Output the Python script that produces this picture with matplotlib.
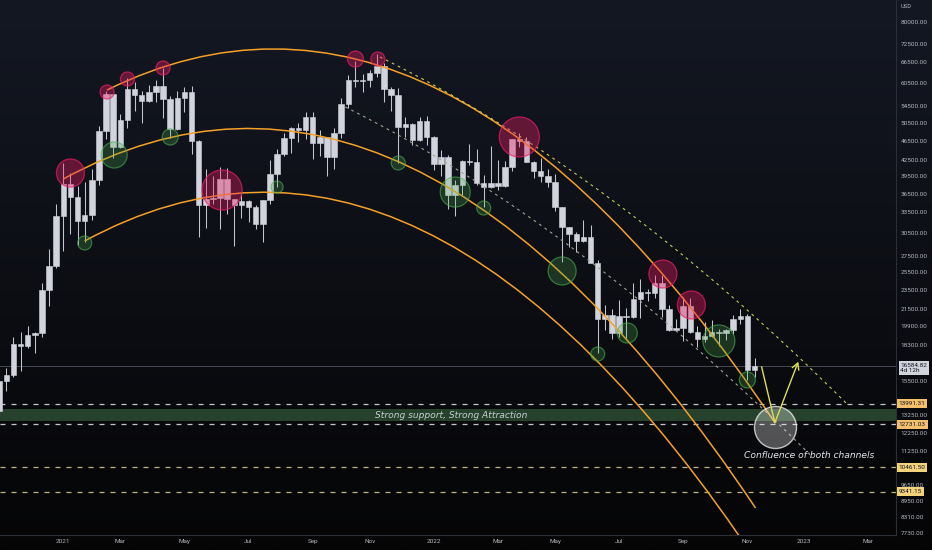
"""
BTCUSD weekly chart with parabolic arcs, descending channel and support levels
(dark TradingView-like style).
"""

import numpy as np
import pandas as pd
import matplotlib
matplotlib.use("Agg")  # Non-interactive backend
import matplotlib.pyplot as plt
import matplotlib.dates as mdates
import matplotlib.transforms as mtransforms
from matplotlib.colors import to_rgba
from matplotlib.path import Path
from matplotlib.patches import PathPatch
from matplotlib.ticker import NullLocator

plt.rcParams["font.family"] = ["Roboto", "DejaVu Sans"]

# ---- weekly candles, Nov 2020 .. Nov 2022 ----
opens = [
    13550, 15480, 15960, 18400, 18180, 19150, 19270, 23470, 26270,
    # 2021
    33000, 38150, 36000, 32250, 33100, 38900, 48580, 57500, 45140, 51200,
    59000, 57350, 55800, 58200, 59800, 56200, 49100, 56600, 58200, 46400,
    34700, 35700, 35800, 39100, 35600, 34700, 35300, 34300, 31800, 35400,
    39900, 43800, 47100, 49300, 48800, 51800, 46000, 47300, 43200, 48200,
    55000, 61500, 61000, 61300, 63300, 65500, 59000, 57300, 49400, 50100,
    46700, 50800,
    # 2022
    47300, 41800, 43100, 36300, 37900, 42400, 42200, 38400, 37700, 38400,
    37800, 41300, 46800, 46400, 42200, 40400, 39500, 38500, 34300, 31300,
    30300, 29450, 29900, 26600, 20550, 21000, 19300, 20850, 20800, 22600,
    23300, 23200, 24300, 21500, 19550, 19800, 21800, 19400, 18800, 19050,
    19400, 19270, 19570, 20630, 20900, 16330,
]
highs = [
    15960, 16480, 18960, 19420, 19900, 19420, 24300, 28400, 34800,
    41950, 40100, 37850, 38550, 40950, 49700, 58350, 57550, 52650, 61800,
    60700, 58400, 60000, 61300, 64900, 57000, 58400, 59500, 59600, 46600,
    40900, 39500, 41300, 41000, 35700, 36600, 35400, 34700, 35500, 42600,
    44800, 48200, 49500, 50500, 52900, 52900, 48800, 47400, 49200, 56600,
    62900, 67000, 63000, 64300, 69000, 66300, 59400, 59200, 51900, 50500,
    51900, 52100,
    47600, 44500, 43500, 38900, 42600, 45800, 44700, 39800, 45400, 42600,
    42300, 46900, 48200, 47400, 42400, 42900, 40800, 40000, 34400, 31400,
    30650, 32400, 31700, 26900, 21900, 21500, 22500, 21600, 24300, 24700,
    23600, 25200, 25200, 21900, 20600, 22800, 22700, 19900, 20300, 20500,
    19700, 19700, 21000, 21500, 21050, 17200,
]
lows = [
    13200, 14800, 15800, 16200, 18000, 17600, 19000, 21800, 26000,
    28100, 30300, 28850, 29240, 32300, 37900, 46850, 43000, 44900, 49300,
    53200, 50400, 55500, 55500, 51500, 47000, 48800, 53000, 43800, 30000,
    31200, 34800, 31000, 33300, 28800, 32700, 32000, 31100, 29300, 34800,
    37600, 43300, 43900, 46300, 46800, 42800, 43400, 39600, 40800, 47000,
    54000, 59500, 58000, 59400, 62300, 55600, 53300, 42000, 47300, 45500,
    46400, 45700,
    40600, 39600, 34000, 32900, 36300, 41700, 38000, 34300, 37500, 37200,
    37600, 40500, 45200, 42100, 39200, 38500, 37600, 33700, 26700, 28600,
    28000, 29300, 26550, 17600, 19600, 18800, 19000, 18900, 20700, 20700,
    22400, 22700, 20800, 19500, 19500, 18600, 19300, 18100, 18500, 19000,
    18200, 18700, 19200, 20100, 15600, 15800,
]
closes = [
    15480, 15960, 18400, 18180, 19150, 19270, 23470, 26270, 33000,
    38150, 36000, 32250, 33100, 38900, 48580, 57500, 45140, 51200, 59000,
    57350, 55800, 58200, 59800, 56200, 49100, 56600, 58200, 46400, 34700,
    35700, 35800, 39100, 35600, 34700, 35300, 34300, 31800, 35400, 39900,
    43800, 47100, 49300, 48800, 51800, 46000, 47300, 43200, 48200, 55000,
    61500, 61000, 61300, 63300, 65500, 59000, 57300, 49400, 50100, 46700,
    50800, 47300,
    41800, 43100, 36300, 37900, 42400, 42200, 38400, 37700, 38400, 37800,
    41300, 46800, 46400, 42200, 40400, 39500, 38500, 34300, 31300, 30300,
    29450, 29900, 26600, 20550, 21000, 19300, 20850, 20800, 22600, 23300,
    23200, 24300, 21500, 19550, 19800, 21800, 19400, 18800, 19050, 19400,
    19270, 19570, 20630, 20900, 16330, 16585,
]
week_start = pd.date_range("2020-11-02", periods=len(closes), freq="W-MON")
last_price = 16584.82
time_left = "4d 12h"

# ---- horizontal levels ----
levels_grey = [13991.31, 12731.03]
levels_khaki = [10461.50, 9341.15]
band_low, band_high = 12890, 13620

price_ticks = [80000, 72500, 66500, 60500, 54500, 50500, 46500, 42500, 39500,
               36500, 33500, 30500, 27500, 25500, 23500, 21500, 19900, 18300,
               15500, 13250, 12250, 11250, 9650, 8950, 8310, 7730]

# ---- drawings: (date, price) for start, control, end ----
arc_top = [("2021-02-16", 58630), ("2022-01-10", 124600), ("2022-12-04", 12820)]
arc_mid = [("2021-01-04", 39040), ("2021-12-10", 92600), ("2022-11-15", 8680)]
arc_low = [("2021-01-25", 29410), ("2021-12-23", 68100), ("2022-11-19", 6656)]
chan_upper = [("2021-11-11", 68180), ("2022-06-29", 40270), ("2023-02-12", 14020)]
chan_lower = [("2021-10-08", 54250), ("2022-05-25", 31860), ("2023-01-10", 10950)]
arrow_pts = [("2022-11-21", 16530), ("2022-12-04", 12820), ("2022-12-27", 16935)]

# ---- reaction circles (radius in px) ----
red_dates = ["2021-01-11", "2021-02-16", "2021-03-08", "2021-04-12", "2021-06-09",
             "2021-10-18", "2021-11-09", "2022-03-28", "2022-08-16", "2022-09-13"]
red_prices = [40120, 58100, 61650, 64830, 37120, 67550, 67550, 47300, 25290, 21950]
red_radius = [14, 7, 7, 7, 20, 8, 7, 20, 14, 14]

green_dates = ["2021-01-25", "2021-02-23", "2021-04-19", "2021-08-02", "2021-11-29",
               "2022-01-24", "2022-02-21", "2022-05-09", "2022-06-13", "2022-07-12",
               "2022-10-10", "2022-11-07"]
green_prices = [29140, 43560, 47300, 37630, 42000, 36780, 34190, 25640, 17540,
                19310, 18620, 15580]
green_radius = [7, 13, 8, 6, 7, 15, 7, 14, 7, 10, 16, 8]

target_date, target_price, target_radius = "2022-12-04", 12550, 21

# ---- colours ----
CANDLE = "#d1d4dc"
ORANGE = "#f5a028"
YELLOW = "#dede50"
TXT = "#b2b5be"


def num(d):
    return mdates.date2num(pd.Timestamp(d))


def curve(ax, pts, **kw):
    """Quadratic bezier through start / control / end anchors."""
    verts = [(num(d), p) for d, p in pts]
    path = Path(verts, [Path.MOVETO, Path.CURVE3, Path.CURVE3])
    ax.add_patch(PathPatch(path, fill=False, **kw))


def area(r):
    return (2 * r * 0.72) ** 2


fig = plt.figure(figsize=(9.32, 5.5), dpi=100, facecolor="black")

# background gradient
bg = fig.add_axes([0, 0, 1, 1], zorder=-1)
top = np.array([20, 24, 35]) / 255
bottom = np.array([5, 5, 6]) / 255
t = np.linspace(0, 1, 256)[:, None, None]
bg.imshow(top * (1 - t) + bottom * t, aspect="auto", extent=[0, 1, 0, 1])
bg.axis("off")

ax = fig.add_axes([0, 15 / 550, 896 / 932, 535 / 550])
ax.set_facecolor("none")
ax.set_yscale("log")

# support band and levels
ax.axhspan(band_low, band_high, color="#26422c", lw=0, zorder=1)
for lv in levels_grey:
    ax.axhline(lv, color="#c4c6cc", lw=0.9, ls=(0, (4, 4.8)), zorder=2)
for lv in levels_khaki:
    ax.axhline(lv, color="#bdb684", lw=0.9, ls=(0, (4, 4.8)), zorder=2)
ax.axhline(last_price, color="#464a55", lw=0.7, zorder=1.5)

# candles
x = mdates.date2num(week_start)
o, h, l, c = (np.array(v, dtype=float) for v in (opens, highs, lows, closes))
lo, hi = np.minimum(o, c), np.maximum(o, c)
ax.vlines(x, l, h, color="#c3c6ce", lw=0.75, zorder=3)
ax.bar(x, hi - lo, bottom=lo, width=5.4, color=CANDLE, edgecolor=CANDLE,
       lw=0.4, zorder=3)

# arcs and channel
for arc in (arc_top, arc_mid, arc_low):
    curve(ax, arc, edgecolor=ORANGE, lw=1.1, zorder=4)
curve(ax, chan_upper, edgecolor="#c9c95a", lw=0.8, ls=(0, (2.5, 3.5)), zorder=4)
curve(ax, chan_lower, edgecolor="#a3a38c", lw=0.8, ls=(0, (2.5, 3.5)), zorder=4)

# circles
ax.scatter(mdates.date2num(pd.to_datetime(red_dates)), red_prices,
           s=[area(r) for r in red_radius], facecolors=to_rgba("#e91e63", 0.38),
           edgecolors=to_rgba("#e91e63", 0.7), linewidths=0.9, zorder=5)
ax.scatter(mdates.date2num(pd.to_datetime(green_dates)), green_prices,
           s=[area(r) for r in green_radius], facecolors=to_rgba("#4caf50", 0.25),
           edgecolors=to_rgba("#4caf50", 0.6), linewidths=0.9, zorder=5)
ax.scatter([num(target_date)], [target_price], s=[area(target_radius)],
           facecolors=to_rgba("white", 0.3), edgecolors=to_rgba("white", 0.7),
           linewidths=1.0, zorder=5)

# projected path
ax.plot([num(d) for d, _ in arrow_pts[:2]], [p for _, p in arrow_pts[:2]],
        color=YELLOW, lw=1.0, zorder=6)
ax.annotate("", xy=(num(arrow_pts[2][0]), arrow_pts[2][1]),
            xytext=(num(arrow_pts[1][0]), arrow_pts[1][1]),
            arrowprops=dict(arrowstyle="->,head_length=0.45,head_width=0.25",
                            color=YELLOW, lw=1.0, shrinkA=0, shrinkB=0), zorder=6)

# annotations
ax.text(num("2022-01-20"), 13240, "Strong support, Strong Attraction",
        family="DejaVu Sans", style="italic", fontsize=6.6, color="#c8ccd2",
        ha="center", va="center", zorder=7)
ax.text(num("2023-01-07"), 11010, "Confluence of both channels",
        family="DejaVu Sans", style="italic", fontsize=6.6, color="#e0e3eb",
        ha="center", va="center", zorder=7)

# limits
x0 = num("2021-01-04")
ax.set_xlim(x0 - 62.2, x0 + 818.0)
ax.set_ylim(7671, 88460)

# price scale
ax.yaxis.tick_right()
ax.set_yticks(price_ticks)
ax.set_yticklabels([f"{v:.2f}" for v in price_ticks])
ax.yaxis.set_minor_locator(NullLocator())
ax.tick_params(axis="y", length=0, pad=3.5, labelsize=4.6, labelcolor=TXT)

# time scale: first weekly bar of every other month
ticks = pd.date_range("2021-01-01", "2023-03-31", freq="WOM-1MON")
ticks = ticks[ticks.month % 2 == 1]
ax.set_xticks(mdates.date2num(ticks))
ax.set_xticklabels([str(d.year) if d.month == 1 else d.strftime("%b") for d in ticks])
ax.xaxis.set_minor_locator(NullLocator())
ax.tick_params(axis="x", length=0, pad=3, labelsize=4.6, labelcolor=TXT)

for side in ("top", "left"):
    ax.spines[side].set_visible(False)
for side in ("right", "bottom"):
    ax.spines[side].set_color("#2a2e39")
    ax.spines[side].set_linewidth(0.8)

# price labels on the scale
blend = mtransforms.blended_transform_factory(ax.transAxes, ax.transData)
for lv in levels_grey:
    ax.text(1.003, lv, f"{lv:.2f}", transform=blend, ha="left", va="center",
            fontsize=4.6, color="#131722", clip_on=False, zorder=8,
            bbox=dict(boxstyle="square,pad=0.3", fc="#f3bf6b", ec="none"))
for lv in levels_khaki:
    ax.text(1.003, lv, f"{lv:.2f}", transform=blend, ha="left", va="center",
            fontsize=4.6, color="#131722", clip_on=False, zorder=8,
            bbox=dict(boxstyle="square,pad=0.3", fc="#f2d27a", ec="none"))
ax.annotate(f"{last_price:.2f}\n{time_left}", xy=(1.0, last_price), xycoords=blend,
            xytext=(3.2, 2.6), textcoords="offset points", ha="left", va="top",
            fontsize=4.6, color="#131722", linespacing=1.1, annotation_clip=False,
            bbox=dict(boxstyle="square,pad=0.3", fc="#d1d4dc", ec="none"), zorder=8)

fig.text(901 / 932, 1 - 7 / 550, "USD", fontsize=4.2, color=TXT, va="center")

fig.savefig("out.png", dpi=100, facecolor=fig.get_facecolor())
plt.close(fig)
